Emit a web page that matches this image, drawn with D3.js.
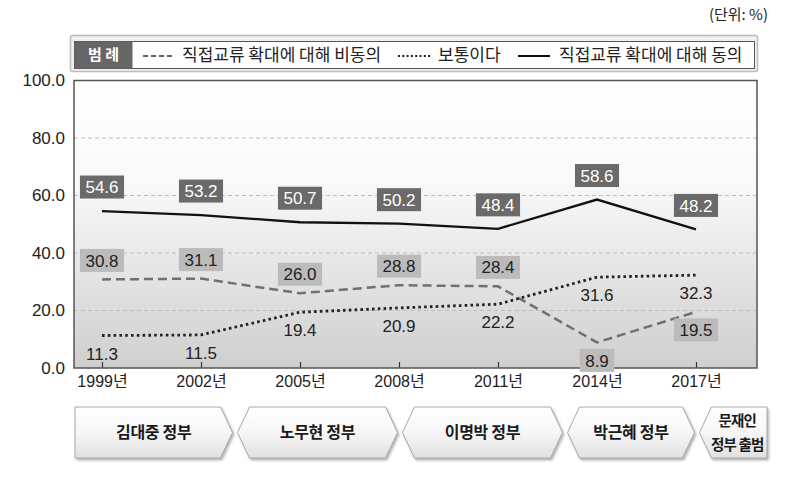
<!DOCTYPE html>
<html><head><meta charset="utf-8">
<script src="https://cdn.jsdelivr.net/npm/d3@7"></script>
<style>
html,body{margin:0;padding:0;background:#fff;}
svg{display:block;}
</style></head>
<body><svg id="c" width="785" height="480"></svg>
<script>
// ---- data ----
const years = [1999, 2002, 2005, 2008, 2011, 2014, 2017];
const agree = [54.6, 53.2, 50.7, 50.2, 48.4, 58.6, 48.2];
const disagree = [30.8, 31.1, 26.0, 28.8, 28.4, 8.9, 19.5];
const neutral = [11.3, 11.5, 19.4, 20.9, 22.2, 31.6, 32.3];
const yTicks = [0, 20, 40, 60, 80, 100];
const seriesNames = ["직접교류 확대에 대해 비동의", "보통이다", "직접교류 확대에 대해 동의"];
const governments = ["김대중 정부", "노무현 정부", "이명박 정부", "박근혜 정부", "문재인|정부 출범"];
const govBoundaries = [2003, 2008, 2013, 2017];
const unitLabel = "(단위: %)";
const legendTitle = "범 례";

// ---- layout ----
const svg = d3.select("#c");
const NUM = "'Liberation Sans', Arial, 'Noto Sans CJK KR', sans-serif";
const KR = "'Noto Sans CJK KR', 'Liberation Sans', sans-serif";
const plot = {left: 74, right: 757, top: 80.5, bottom: 368};
const x = d3.scaleLinear().domain([years[0], years[years.length - 1]]).range([plot.left + 28, plot.right - 61]);
const y = d3.scaleLinear().domain([0, 100]).range([plot.bottom, plot.top]);

const defs = svg.append("defs");
const bg = defs.append("linearGradient").attr("id", "bg").attr("x1", 0).attr("y1", 0).attr("x2", 0).attr("y2", 1);
bg.append("stop").attr("offset", "0").attr("stop-color", "#ffffff");
bg.append("stop").attr("offset", "0.35").attr("stop-color", "#f9f9f9");
bg.append("stop").attr("offset", "1").attr("stop-color", "#cfcfcf");
const sg = defs.append("linearGradient").attr("id", "sg").attr("x1", 0).attr("y1", 0).attr("x2", 0).attr("y2", 1);
sg.append("stop").attr("offset", "0").attr("stop-color", "#ffffff");
sg.append("stop").attr("offset", "0.5").attr("stop-color", "#f6f6f6");
sg.append("stop").attr("offset", "1").attr("stop-color", "#e0e0e0");
const f = defs.append("filter").attr("id", "sh").attr("x", "-10%").attr("y", "-20%").attr("width", "130%").attr("height", "150%");
f.append("feDropShadow").attr("dx", 1.5).attr("dy", 2).attr("stdDeviation", 1.2).attr("flood-color", "#777").attr("flood-opacity", 0.55);

// unit label
svg.append("text").attr("x", 768).attr("y", 20).attr("text-anchor", "end")
  .attr("font-family", KR).attr("font-size", 15).attr("fill", "#222").text(unitLabel);

// legend
const lg = svg.append("g");
lg.append("rect").attr("x", 70.5).attr("y", 35.5).attr("width", 687).attr("height", 36)
  .attr("fill", "#f0f0f0").attr("stroke", "#bdbdbd").attr("stroke-width", 1.5).attr("rx", 2);
lg.append("rect").attr("x", 74.5).attr("y", 41.5).attr("width", 680).attr("height", 27)
  .attr("fill", "#fff").attr("stroke", "#555");
lg.append("rect").attr("x", 74.5).attr("y", 41.5).attr("width", 58).attr("height", 27).attr("fill", "#666");
lg.append("text").attr("x", 103.5).attr("y", 55).attr("dy", "0.35em").attr("text-anchor", "middle")
  .attr("font-family", KR).attr("font-weight", "bold").attr("font-size", 15).attr("fill", "#fff").text(legendTitle);
const legendItems = [
  {x1: 143, x2: 173, tx: 182, stroke: "#666", dash: "5,3", w: 2},
  {x1: 398, x2: 430, tx: 438, stroke: "#222", dash: "2,2.3", w: 2},
  {x1: 518, x2: 550, tx: 559, stroke: "#111", dash: null, w: 2}
];
legendItems.forEach((d, i) => {
  lg.append("line").attr("x1", d.x1).attr("x2", d.x2).attr("y1", 56).attr("y2", 56)
    .attr("stroke", d.stroke).attr("stroke-width", d.w).attr("stroke-dasharray", d.dash);
  lg.append("text").attr("x", d.tx).attr("y", 55).attr("dy", "0.35em")
    .attr("font-family", KR).attr("font-size", 17).attr("fill", "#222").text(seriesNames[i]);
});

// plot background
svg.append("rect").attr("x", plot.left).attr("y", plot.top).attr("width", plot.right - plot.left)
  .attr("height", plot.bottom - plot.top).attr("fill", "url(#bg)");

// gridlines
svg.append("g").selectAll("line").data(yTicks.filter(t => t > 0 && t < 100)).join("line")
  .attr("x1", plot.left).attr("x2", plot.right).attr("y1", d => y(d)).attr("y2", d => y(d))
  .attr("stroke", "#bdbdbd").attr("stroke-width", 1).attr("stroke-dasharray", "4,3");

// y axis
const yAxis = svg.append("g").attr("transform", `translate(${plot.left},0)`)
  .call(d3.axisLeft(y).tickValues(yTicks).tickFormat(d3.format(".1f")).tickSize(0).tickPadding(9));
yAxis.select(".domain").remove();
yAxis.selectAll("text").attr("font-family", NUM).attr("font-size", 17).attr("fill", "#222");

// x axis
const xAxis = svg.append("g").attr("transform", `translate(0,${plot.bottom})`)
  .call(d3.axisBottom(x).tickValues(years).tickFormat(d => d + "년").tickSize(-6).tickPadding(8));
xAxis.select(".domain").remove();
xAxis.selectAll(".tick line").attr("stroke", "#333").attr("stroke-width", 1.2);
xAxis.selectAll("text").attr("font-family", NUM).attr("font-size", 16).attr("fill", "#222");

// plot border
svg.append("rect").attr("x", plot.left).attr("y", plot.top).attr("width", plot.right - plot.left)
  .attr("height", plot.bottom - plot.top).attr("fill", "none").attr("stroke", "#555").attr("stroke-width", 1.5);

// lines
const line = d3.line().x((d, i) => x(years[i])).y(d => y(d));
svg.append("path").datum(disagree).attr("d", line).attr("fill", "none")
  .attr("stroke", "#707070").attr("stroke-width", 2.5).attr("stroke-dasharray", "9,5");
svg.append("path").datum(neutral).attr("d", line).attr("fill", "none")
  .attr("stroke", "#222").attr("stroke-width", 2.8).attr("stroke-dasharray", "2.6,3.2");
svg.append("path").datum(agree).attr("d", line).attr("fill", "none")
  .attr("stroke", "#111").attr("stroke-width", 2.3);

// labels
function boxLabel(vals, offsetFn, fill, color) {
  const g = svg.append("g");
  vals.forEach((v, i) => {
    const cx = x(years[i]), cy = y(v) + offsetFn(v, i);
    const gg = g.append("g");
    const r = gg.append("rect");
    const t = gg.append("text").attr("x", cx).attr("y", cy).attr("dy", "0.36em").attr("text-anchor", "middle")
      .attr("font-family", NUM).attr("font-size", 17).attr("fill", color).text(d3.format(".1f")(v));
    const w = t.node().getComputedTextLength() + 11;
    r.attr("x", cx - w / 2).attr("y", cy - 11.5).attr("width", w).attr("height", 23).attr("fill", fill);
  });
}
boxLabel(agree, () => -24, "#6a6a6a", "#fff");
boxLabel(disagree, (v, i) => v < neutral[i] ? 18 : -19, "#bbbbbb", "#222");
svg.append("g").selectAll("text").data(neutral).join("text")
  .attr("x", (d, i) => x(years[i])).attr("y", d => y(d) + 18).attr("dy", "0.36em").attr("text-anchor", "middle")
  .attr("font-family", NUM).attr("font-size", 17).attr("fill", "#222").text(d => d3.format(".1f")(d));

// government banner
const bTop = 407, bBot = 458, bMid = (bTop + bBot) / 2, tipD = 12;
const bLeft = 75, bRight = 767;
const bg2 = svg.append("g");
governments.forEach((name, i) => {
  const last = governments.length - 1;
  const x0 = i === 0 ? bLeft : x(govBoundaries[i - 1]) + 3.5;
  const x1 = i === last ? bRight : x(govBoundaries[i]) - 1.5;
  const p = d3.path();
  if (i === 0) { p.moveTo(x0, bTop); }
  else { p.moveTo(x0 + tipD, bTop); }
  if (i === last) { p.lineTo(x1, bTop); p.lineTo(x1, bBot); }
  else { p.lineTo(x1 - tipD, bTop); p.lineTo(x1, bMid); p.lineTo(x1 - tipD, bBot); }
  if (i === 0) { p.lineTo(x0, bBot); }
  else { p.lineTo(x0 + tipD, bBot); p.lineTo(x0, bMid); }
  p.closePath();
  bg2.append("path").attr("d", p.toString()).attr("fill", "url(#sg)").attr("stroke", "#a8a8a8")
    .attr("stroke-width", 1).attr("filter", "url(#sh)");
  const lines = name.split("|");
  const cx = (x0 + x1) / 2 + (i === last ? 4 : 0);
  const fs = lines.length > 1 ? 14.5 : 16;
  lines.forEach((ln, j) => {
    bg2.append("text").attr("x", cx).attr("y", bMid + (j - (lines.length - 1) / 2) * 24)
      .attr("dy", "0.36em").attr("text-anchor", "middle")
      .attr("font-family", KR).attr("font-weight", "bold").attr("font-size", fs)
      .attr("letter-spacing", lines.length > 1 ? -0.8 : -0.3).attr("fill", "#1a1a1a").text(ln);
  });
});
</script></body></html>
